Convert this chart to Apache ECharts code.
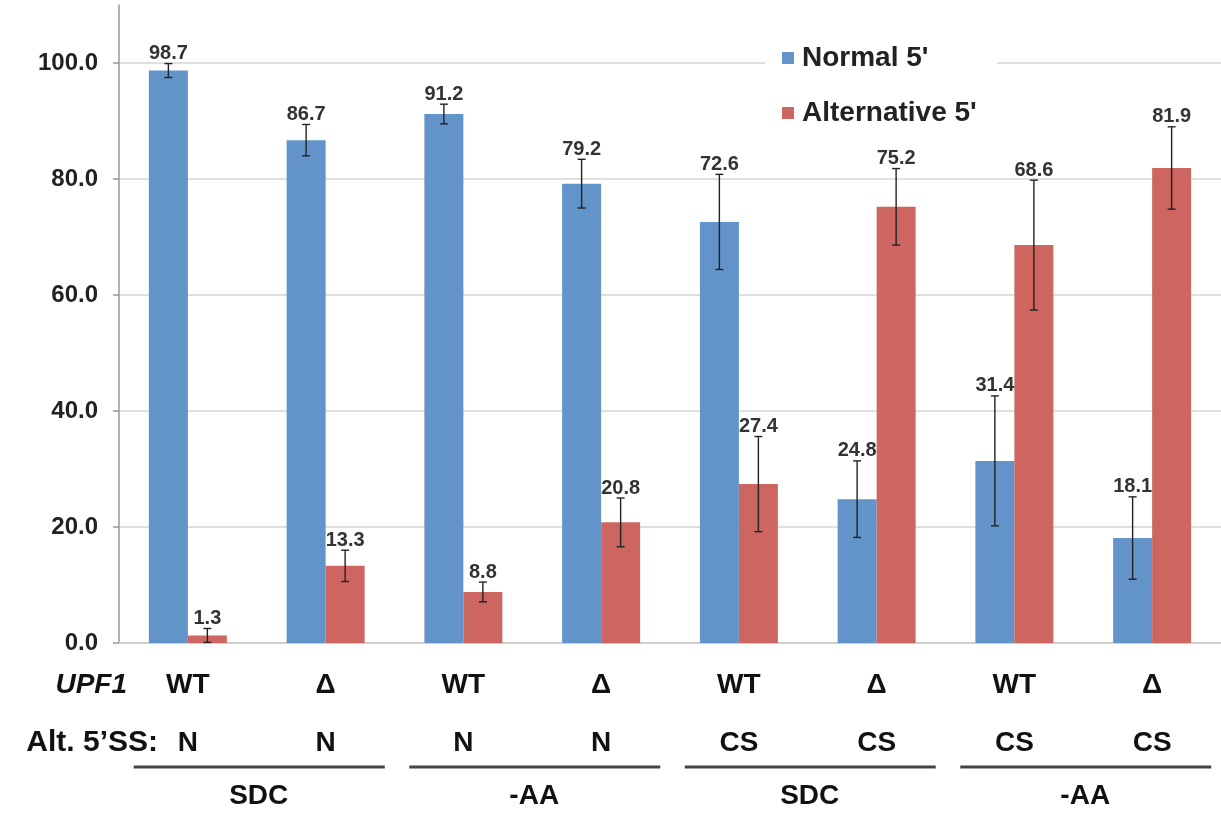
<!DOCTYPE html>
<html>
<head>
<meta charset="utf-8">
<title>Normal vs alternative 5' splice site usage</title>
<script src="https://cdn.jsdelivr.net/npm/echarts@6/dist/echarts.min.js"></script>
<style>
  html, body { margin: 0; padding: 0; background: #fff; }
  #chart { width: 1221px; height: 815px; }
</style>
</head>
<body>
<div id="chart"></div>
<script>
// UPF1 genotype per bar pair, alternative 5' splice site and growth medium
const categories = ['WT', 'Δ', 'WT', 'Δ', 'WT', 'Δ', 'WT', 'Δ'];
const altSites = ['N', 'N', 'N', 'N', 'CS', 'CS', 'CS', 'CS'];
const mediumGroups = ['SDC', '-AA', 'SDC', '-AA'];

// Percent usage of each 5' splice site, with the error for each condition
const normalValues = [98.7, 86.7, 91.2, 79.2, 72.6, 24.8, 31.4, 18.1];
const alternativeValues = [1.3, 13.3, 8.8, 20.8, 27.4, 75.2, 68.6, 81.9];
const errorValues = [1.2, 2.7, 1.7, 4.2, 8.2, 6.6, 11.2, 7.1];

const yTicks = [0, 20, 40, 60, 80, 100];

const FONT = '"Liberation Sans", Arial, Helvetica, sans-serif';
const BLUE = '#6394C9';
const RED = '#CD6660';
const BAR_W = 39;

const chart = echarts.init(document.getElementById('chart'), null, { renderer: 'canvas' });

function errorSeries(name, values, side) {
  return {
    type: 'custom',
    name: name + ' error',
    z: 5,
    silent: true,
    data: values.map((v, i) => [i, v, errorValues[i]]),
    encode: { x: 0, y: 1 },
    renderItem: function (params, api) {
      const idx = api.value(0);
      const val = api.value(1);
      const err = api.value(2);
      const center = api.coord([idx, val]);
      const x = center[0] + side * BAR_W / 2;
      const top = api.coord([idx, val + err])[1];
      const bot = api.coord([idx, Math.max(0, val - err)])[1];
      const cap = 4;
      const lineStyle = { stroke: '#222', lineWidth: 1.4 };
      return {
        type: 'group',
        children: [
          { type: 'line', shape: { x1: x, y1: top, x2: x, y2: bot }, style: lineStyle },
          { type: 'line', shape: { x1: x - cap, y1: top, x2: x + cap, y2: top }, style: lineStyle },
          { type: 'line', shape: { x1: x - cap, y1: bot, x2: x + cap, y2: bot }, style: lineStyle },
          {
            type: 'text',
            style: {
              text: val.toFixed(1),
              x: x,
              y: top,
              align: 'center',
              verticalAlign: 'bottom',
              fontFamily: FONT,
              fontSize: 20,
              fontWeight: 'bold',
              fill: '#333'
            }
          }
        ]
      };
    }
  };
}

const option = {
  animation: false,
  backgroundColor: '#fff',
  grid: { left: 119, right: 0, top: 5, bottom: 172, containLabel: false },
  legend: {
    orient: 'vertical',
    left: 765,
    top: 38,
    padding: [6, 20, 6, 17],
    backgroundColor: '#fff',
    itemWidth: 12,
    itemHeight: 12,
    itemGap: 27,
    icon: 'rect',
    data: ['Normal 5\'', 'Alternative 5\''],
    textStyle: { fontFamily: FONT, fontSize: 28, fontWeight: 'bold', color: '#222', padding: [0, 0, 0, 3] }
  },
  xAxis: {
    type: 'category',
    data: categories,
    axisLine: { lineStyle: { color: '#cfcfcf', width: 2 } },
    axisTick: { show: false },
    axisLabel: {
      margin: 13,
      interval: 0,
      formatter: function (value, idx) {
        return '{g|' + value + '}\n{s|' + altSites[idx] + '}';
      },
      rich: {
        g: { fontFamily: FONT, fontSize: 28, fontWeight: 'bold', color: '#111', lineHeight: 58 },
        s: { fontFamily: FONT, fontSize: 28, fontWeight: 'bold', color: '#111', lineHeight: 58 }
      }
    }
  },
  yAxis: {
    type: 'value',
    min: 0,
    max: 110,
    interval: 20,
    axisLine: { show: true, lineStyle: { color: '#999', width: 1.5 } },
    axisTick: { show: true, length: 6, customValues: yTicks, lineStyle: { color: '#999', width: 1.5 } },
    axisLabel: {
      margin: 21,
      customValues: yTicks,
      formatter: v => v.toFixed(1),
      fontFamily: FONT,
      fontSize: 24,
      fontWeight: 'bold',
      color: '#222'
    },
    splitLine: { show: true, lineStyle: { color: '#d6d6d6', width: 1.5 } }
  },
  series: [
    {
      name: 'Normal 5\'',
      type: 'bar',
      data: normalValues,
      barWidth: BAR_W,
      barGap: '0%',
      itemStyle: { color: BLUE }
    },
    {
      name: 'Alternative 5\'',
      type: 'bar',
      data: alternativeValues,
      barWidth: BAR_W,
      barGap: '0%',
      itemStyle: { color: RED }
    },
    errorSeries('Normal 5\'', normalValues, -1),
    errorSeries('Alternative 5\'', alternativeValues, 1)
  ]
};

chart.setOption(option);

// Row titles and the medium brackets underneath each pair of genotypes
function drawAnnotations() {
  const rowTitleStyle = { fontFamily: FONT, fontSize: 28, fontWeight: 'bold', fill: '#111' };
  const y0 = chart.convertToPixel({ yAxisIndex: 0 }, 0);
  const elements = [
    {
      type: 'text',
      style: Object.assign({ text: 'UPF1', x: 127, y: y0 + 42, align: 'right', verticalAlign: 'middle', fontStyle: 'italic' }, rowTitleStyle)
    },
    {
      type: 'text',
      style: Object.assign({ text: 'Alt. 5’SS:', x: 158, y: y0 + 100, align: 'right', verticalAlign: 'middle', fontSize: 30 }, rowTitleStyle, { fontSize: 30 })
    }
  ];
  mediumGroups.forEach((name, g) => {
    const a = chart.convertToPixel({ xAxisIndex: 0 }, g * 2);
    const b = chart.convertToPixel({ xAxisIndex: 0 }, g * 2 + 1);
    const mid = (a + b) / 2;
    elements.push({
      type: 'line',
      shape: { x1: mid - 123, y1: y0 + 124, x2: mid + 128, y2: y0 + 124 },
      style: { stroke: '#444', lineWidth: 3 }
    });
    elements.push({
      type: 'text',
      style: Object.assign({ text: name, x: mid + 2, y: y0 + 153, align: 'center', verticalAlign: 'middle' }, rowTitleStyle)
    });
  });
  chart.setOption({ graphic: { elements: elements } });
}
drawAnnotations();
</script>
</body>
</html>
